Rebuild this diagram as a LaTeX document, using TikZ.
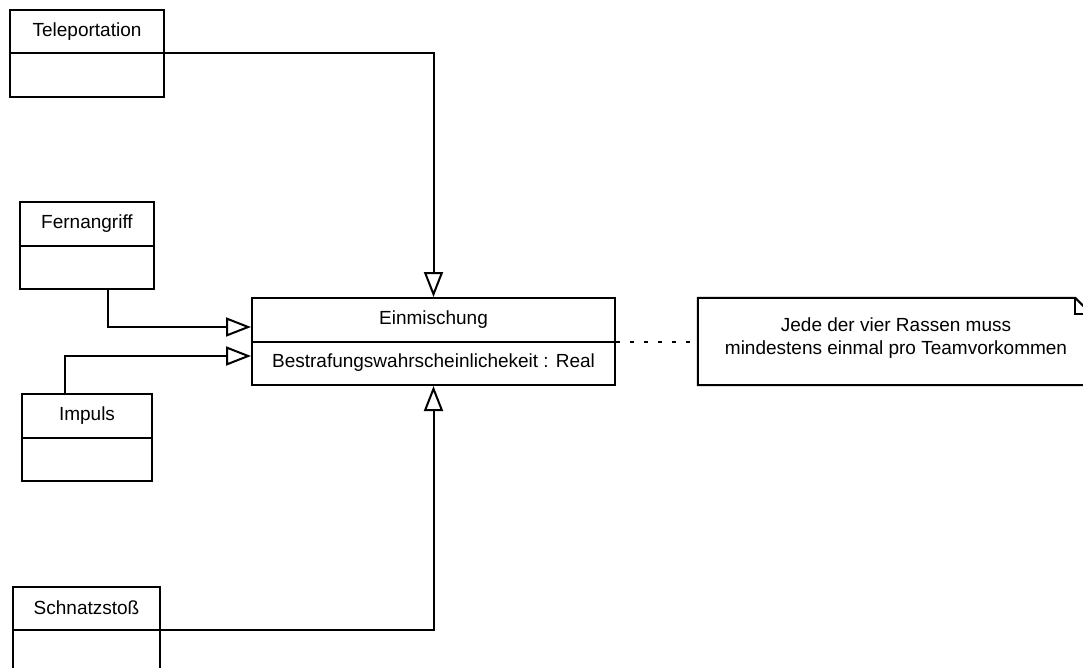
\documentclass[tikz,border=0pt]{standalone}
\usepackage{fontspec}
\setmainfont{Liberation Sans}
\usetikzlibrary{arrows.meta}
\tikzset{
  umlclass/.style={draw, line width=2pt, minimum width=#1, minimum height=87pt, inner sep=0pt},
  umltext/.style={inner sep=0pt, font=\fontsize{19}{23}\selectfont},
  gen/.style={line width=2pt, -{Triangle[open, length=25pt, width=19pt, line width=2pt]}}
}
\begin{document}
\begin{tikzpicture}[x=1pt, y=-1pt]
            \useasboundingbox (0,0) rectangle (1083,667);
            \clip (0,0) rectangle (1083,667);
            % classes
            \node[umlclass=154pt] (tele) at (87,53) {};
            \node[umlclass=134pt] (fern) at (87,245.5) {};
            \node[umlclass=130pt] (impuls) at (87,437.5) {};
            \node[umlclass=363pt] (einm) at (433.5,341.5) {};
            \node[umlclass=147pt] (schnatz) at (86.5,630) {};
            \foreach \c in {tele, fern, impuls, einm, schnatz}
                \draw[line width=2pt] (\c.west) -- (\c.east);
            \node[umltext] (tele-t) at (87,31.5) {Teleportation};
            \node[umltext] (fern-t) at (87,224) {Fernangriff};
            \node[umltext] (impuls-t) at (87,416) {Impuls};
            \node[umltext] (einm-t) at (433.5,320) {Einmischung};
            \node[umltext] (einm-a) at (433.5,363) {Bestrafungswahrscheinlichekeit : Real};
            \node[umltext] (schnatz-t) at (86.5,608) {Schnatzsto{\ss}};
            % note
            \node[minimum width=393pt, minimum height=87pt, inner sep=0pt] (note) at (894.5,341.5) {};
            \draw[line width=2pt] (note.south west) -- (note.north west) -- ([xshift=-16pt]note.north east)
                -- ([yshift=-16pt]note.north east) -- (note.south east) -- cycle;
            \draw[line width=2pt] ([xshift=-16pt]note.north east) -- ([xshift=-16pt, yshift=-16pt]note.north east)
                -- ([yshift=-16pt]note.north east);
            \node[umltext, align=center] (note-t) at (896,338.5) {Jede der vier Rassen muss\\mindestens einmal pro Teamvorkommen};
            % connectors
            \draw[gen] (tele.east) -| (einm.north);
            \draw[gen] ([xshift=21pt]fern.south) |- ([yshift=14.5pt]einm.west);
            \draw[gen] ([xshift=-22pt]impuls.north) |- ([yshift=-14.5pt]einm.west);
            \draw[gen] (schnatz.east) -| (einm.south);
            \draw[line width=2pt, dash pattern=on 4pt off 10pt] (einm.east) -- (note.west);
        \end{tikzpicture}
\end{document}
